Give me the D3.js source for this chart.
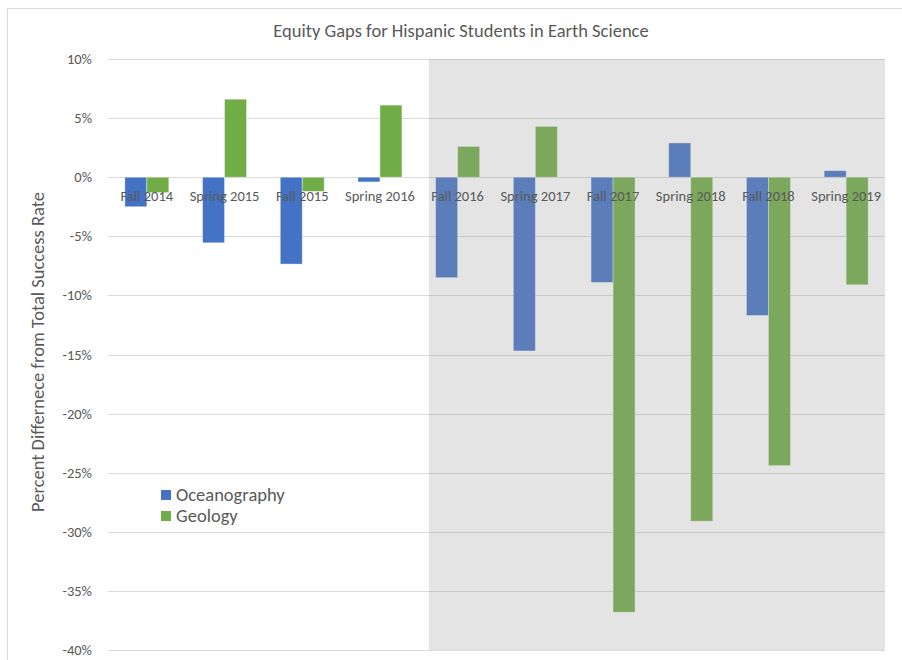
<!DOCTYPE html>
<meta charset="utf-8">
<style>
  body { margin: 0; background: #fff; }
  text { font-family: Calibri, Carlito, Lato, sans-serif; fill: #595959; }
</style>
<svg width="902" height="660"></svg>
<script src="https://cdn.jsdelivr.net/npm/d3@7"></script>
<script>

var terms = ["Fall 2014", "Spring 2015", "Fall 2015", "Spring 2016", "Fall 2016",
             "Spring 2017", "Fall 2017", "Spring 2018", "Fall 2018", "Spring 2019"];
var series = ["Oceanography", "Geology"];
var oceanography = [-2.5, -5.55, -7.35, -0.4, -8.5, -14.7, -8.9, 2.9, -11.7, 0.55];
var geology = [-1.3, 6.6, -1.2, 6.1, 2.6, 4.3, -36.8, -29.1, -24.4, -9.1];
var yTicks = [10, 5, 0, -5, -10, -15, -20, -25, -30, -35, -40];
var shadedFrom = "Fall 2016";

var colors = { Oceanography: "#4472c4", Geology: "#70ad47" };

var svg = d3.select("svg");

var x = d3.scaleBand()
    .domain(terms)
    .range([108, 885]);

var xs = d3.scaleBand()
    .domain(series)
    .range([0, x.bandwidth()])
    .paddingOuter(0.766);

var y = d3.scaleLinear()
    .domain([-40, 10])
    .range([650, 59]);

// outer chart border
svg.append("rect")
    .attr("x", 7.5).attr("y", 8.5)
    .attr("width", 920).attr("height", 700)
    .attr("fill", "none")
    .attr("stroke", "#d9d9d9");

// title
svg.append("text")
    .attr("x", 461).attr("y", 31)
    .attr("dy", "0.35em")
    .attr("text-anchor", "middle")
    .style("font-size", "18.5px")
    .text("Equity Gaps for Hispanic Students in Earth Science");

// gridlines
svg.append("g")
  .selectAll("line")
  .data(yTicks)
  .join("line")
    .attr("x1", x.range()[0]).attr("x2", x.range()[1])
    .attr("y1", d => Math.round(y(d)) + 0.5)
    .attr("y2", d => Math.round(y(d)) + 0.5)
    .attr("stroke", "#d9d9d9");

// y tick labels
svg.append("g")
  .selectAll("text")
  .data(yTicks)
  .join("text")
    .attr("x", 92)
    .attr("y", d => y(d))
    .attr("dy", "0.35em")
    .attr("text-anchor", "end")
    .style("font-size", "14.5px")
    .text(d => d + "%");

// bars
var rows = terms.map((t, i) => ({ term: t, Oceanography: oceanography[i], Geology: geology[i] }));

svg.append("g")
  .selectAll("g")
  .data(rows)
  .join("g")
    .attr("transform", d => "translate(" + x(d.term) + ",0)")
  .selectAll("rect")
  .data(d => series.map(s => ({ key: s, value: d[s] })))
  .join("rect")
    .attr("x", d => xs(d.key))
    .attr("width", xs.bandwidth())
    .attr("y", d => y(Math.max(0, d.value)))
    .attr("height", d => Math.abs(y(d.value) - y(0)))
    .attr("fill", d => colors[d.key])
    .attr("stroke", "#fff")
    .attr("stroke-opacity", 0.5)
    .attr("stroke-width", 0.8);

// shaded overlay for later terms
var shadeX = x(shadedFrom) + x.step() * 0.13;
svg.append("rect")
    .attr("x", shadeX)
    .attr("y", y(10))
    .attr("width", x.range()[1] - shadeX)
    .attr("height", y(-40) - y(10))
    .attr("fill", "rgb(154,154,154)")
    .attr("fill-opacity", 0.27);

// category labels
svg.append("g")
  .selectAll("text")
  .data(terms)
  .join("text")
    .attr("x", d => x(d) + x.bandwidth() / 2)
    .attr("y", 196)
    .attr("dy", "0.35em")
    .attr("text-anchor", "middle")
    .style("font-size", "14.5px")
    .text(d => d);

// y axis title
svg.append("text")
    .attr("transform", "translate(38,352) rotate(-90)")
    .attr("dy", "0.35em")
    .attr("text-anchor", "middle")
    .style("font-size", "18.5px")
    .text("Percent Differnece from Total Success Rate");

// legend
var legend = svg.append("g")
  .selectAll("g")
  .data(series)
  .join("g")
    .attr("transform", (d, i) => "translate(161," + (490 + i * 21) + ")");

legend.append("rect")
    .attr("width", 10).attr("height", 10)
    .attr("fill", d => colors[d]);

legend.append("text")
    .attr("x", 15).attr("y", 5)
    .attr("dy", "0.35em")
    .style("font-size", "18.5px")
    .text(d => d);

</script>
